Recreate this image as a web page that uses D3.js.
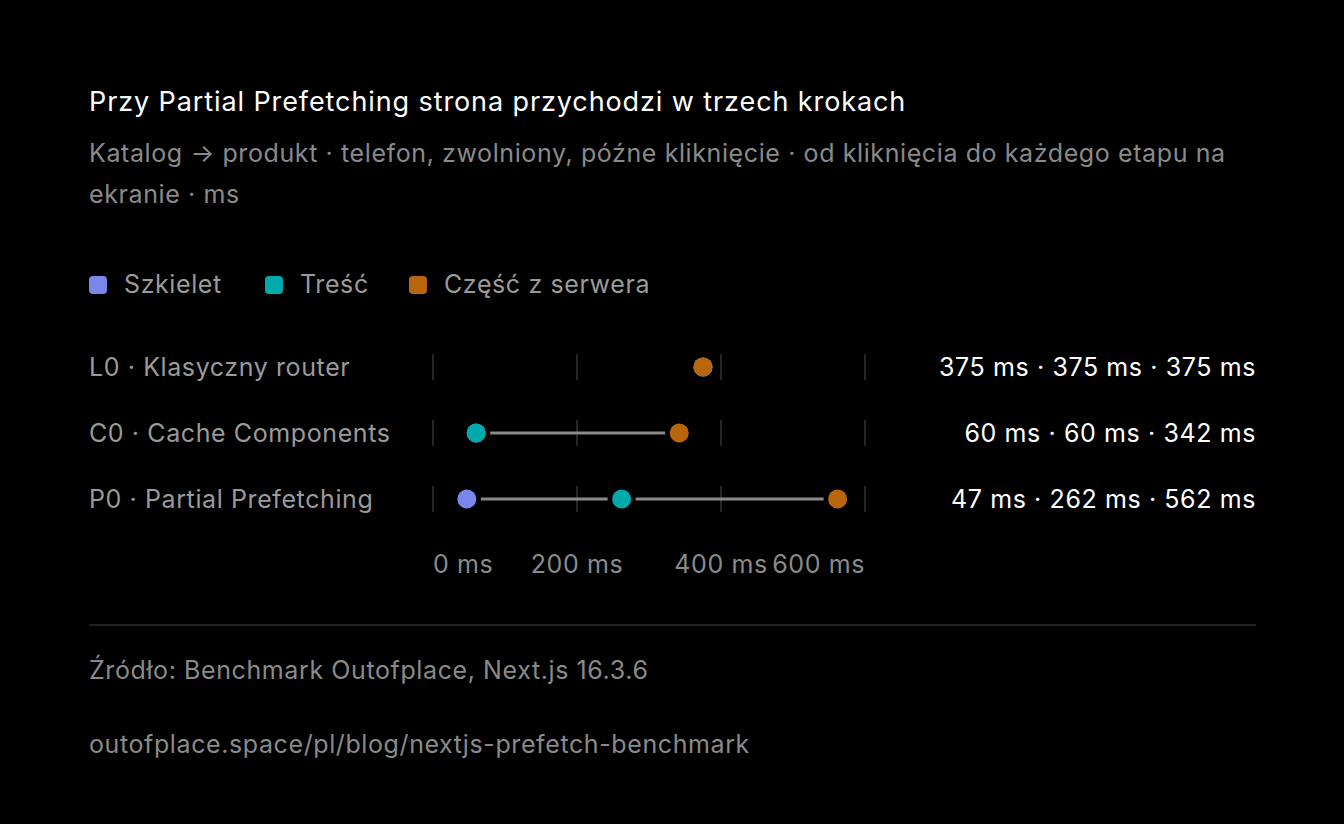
<!DOCTYPE html><html><head><meta charset="utf-8">
<script src="https://cdn.jsdelivr.net/npm/d3@7"></script>
<style>body{margin:0;background:#000}svg{display:block;font-family:Inter,sans-serif;letter-spacing:0.6px}</style></head><body>
<script>
const rows=["L0 · Klasyczny router","C0 · Cache Components","P0 · Partial Prefetching"];
const seriesNames=["Szkielet","Treść","Część z serwera"];
const colors=["#7b86ea","#00a9ab","#b8660b"];
const values=[[375,375,375],[60,60,342],[47,262,562]];
const ticks=[0,200,400,600];
const W=1344,H=824,FS=25;
const svg=d3.select("body").append("svg").attr("width",W).attr("height",H);
svg.append("rect").attr("width",W).attr("height",H).attr("fill","#000");
svg.append("text").attr("x",89).attr("y",111).attr("fill","#fff").attr("font-size",27).attr("letter-spacing",0.9).text("Przy Partial Prefetching strona przychodzi w trzech krokach");
svg.append("text").attr("x",89).attr("y",162).attr("fill","#8a8a8a").attr("font-size",FS).text("Katalog → produkt · telefon, zwolniony, późne kliknięcie · od kliknięcia do każdego etapu na");
svg.append("text").attr("x",89).attr("y",203).attr("fill","#8a8a8a").attr("font-size",FS).text("ekranie · ms");
const lx=[89,265,409];
seriesNames.forEach((s,i)=>{
 svg.append("rect").attr("x",lx[i]).attr("y",276).attr("width",18).attr("height",18).attr("rx",4).attr("fill",colors[i]);
 svg.append("text").attr("x",lx[i]+35).attr("y",293).attr("fill","#9a9a9a").attr("font-size",FS).text(s);
});
const x=d3.scaleLinear().domain([0,600]).range([433,865]);
const y=d3.scalePoint().domain(rows).range([367,499]);
rows.forEach((r,i)=>{
 const cy=y(r);
 svg.append("text").attr("x",89).attr("y",cy+9).attr("fill","#9a9a9a").attr("font-size",FS).text(r);
 ticks.forEach(t=>svg.append("line").attr("x1",x(t)).attr("x2",x(t)).attr("y1",cy-13).attr("y2",cy+13).attr("stroke","#333").attr("stroke-width",1.5));
 const v=values[i];
 for(let k=0;k<2;k++){
  const a=x(v[k]),b=x(v[k+1]);
  if(b-a>28) svg.append("line").attr("x1",a+14).attr("x2",b-14).attr("y1",cy).attr("y2",cy).attr("stroke","#8a8a8a").attr("stroke-width",3);
 }
 v.forEach((val,k)=>svg.append("circle").attr("cx",x(val)).attr("cy",cy).attr("r",9.5).attr("fill",colors[k]));
 svg.append("text").attr("x",1256).attr("y",cy+9).attr("text-anchor","end").attr("fill","#fff").attr("font-size",FS).text(v.map(d=>d+" ms").join(" · "));
});
ticks.forEach((t,i)=>svg.append("text").attr("x",x(t)).attr("y",573).attr("fill","#8a8a8a").attr("font-size",FS)
 .attr("text-anchor",i==0?"start":i==ticks.length-1?"end":"middle").text(t+" ms"));
svg.append("line").attr("x1",89).attr("x2",1256).attr("y1",625).attr("y2",625).attr("stroke","#2e2e2e").attr("stroke-width",1.5);
svg.append("text").attr("x",89).attr("y",679).attr("fill","#8a8a8a").attr("font-size",FS).text("Źródło: Benchmark Outofplace, Next.js 16.3.6");
svg.append("text").attr("x",89).attr("y",753).attr("fill","#8a8a8a").attr("font-size",FS).text("outofplace.space/pl/blog/nextjs-prefetch-benchmark");
</script></body></html>
